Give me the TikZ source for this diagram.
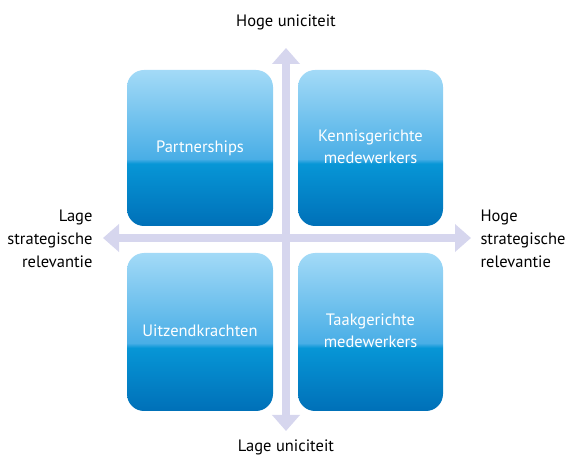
\documentclass[tikz,border=0pt]{standalone}
\usepackage{fontspec}
\setmainfont{PT Sans}
\usetikzlibrary{arrows.meta}
\definecolor{axiscol}{HTML}{D6D6EE}
\definecolor{bdark}{HTML}{0070B8}
\definecolor{bmid}{HTML}{0796D6}
\definecolor{bmidlight}{HTML}{49AEE6}
\definecolor{blight}{HTML}{A3DAF7}
\pgfdeclareverticalshading{boxshade}{100bp}{color(0bp)=(bdark); color(25bp)=(bdark); color(45bp)=(bmid); color(46.5bp)=(bmidlight); color(75bp)=(blight); color(100bp)=(blight)}
\tikzset{
  quad/.style={rounded corners=17pt, shading=boxshade, draw=none},
  qtext/.style={text=white, align=center, font=\fontsize{16.5}{22}\selectfont},
  axisline/.style={draw=axiscol, line width=8pt, {Triangle[width=27pt,length=16pt]}-{Triangle[width=27pt,length=16pt]}},
  lbl/.style={font=\fontsize{16.5}{23}\selectfont, text=black}
}
\begin{document}
\begin{tikzpicture}[x=1pt,y=-1pt]
\useasboundingbox (0,0) rectangle (566,457);
% axes
\coordinate (t) at (286,48);
\coordinate (b) at (286,431);
\coordinate (l) at (103,238);
\coordinate (r) at (471,238);
\draw[axisline] (b) -- (t);
\draw[axisline] (l) -- (r);
% quadrants
\path[quad] (127,70) rectangle (273,226);
\path[quad] (298,70) rectangle (443,226);
\path[quad] (127,253) rectangle (273,411);
\path[quad] (298,253) rectangle (443,411);
\node[qtext] (q1) at (200,148) {Partnerships};
\node[qtext] (q2) at (370.5,147) {Kennisgerichte\\medewerkers};
\node[qtext] (q3) at (200,331) {Uitzendkrachten};
\node[qtext] (q4) at (370.5,331) {Taakgerichte\\medewerkers};
% labels
\node[lbl] (top) at (286,22) {Hoge uniciteit};
\node[lbl] (bot) at (286,447) {Lage uniciteit};
\node[lbl, align=right, anchor=east] (left) at (96,239) {Lage\\strategische\\relevantie};
\node[lbl, align=left, anchor=west] (right) at (477,239) {Hoge\\strategische\\relevantie};
\end{tikzpicture}
\end{document}
